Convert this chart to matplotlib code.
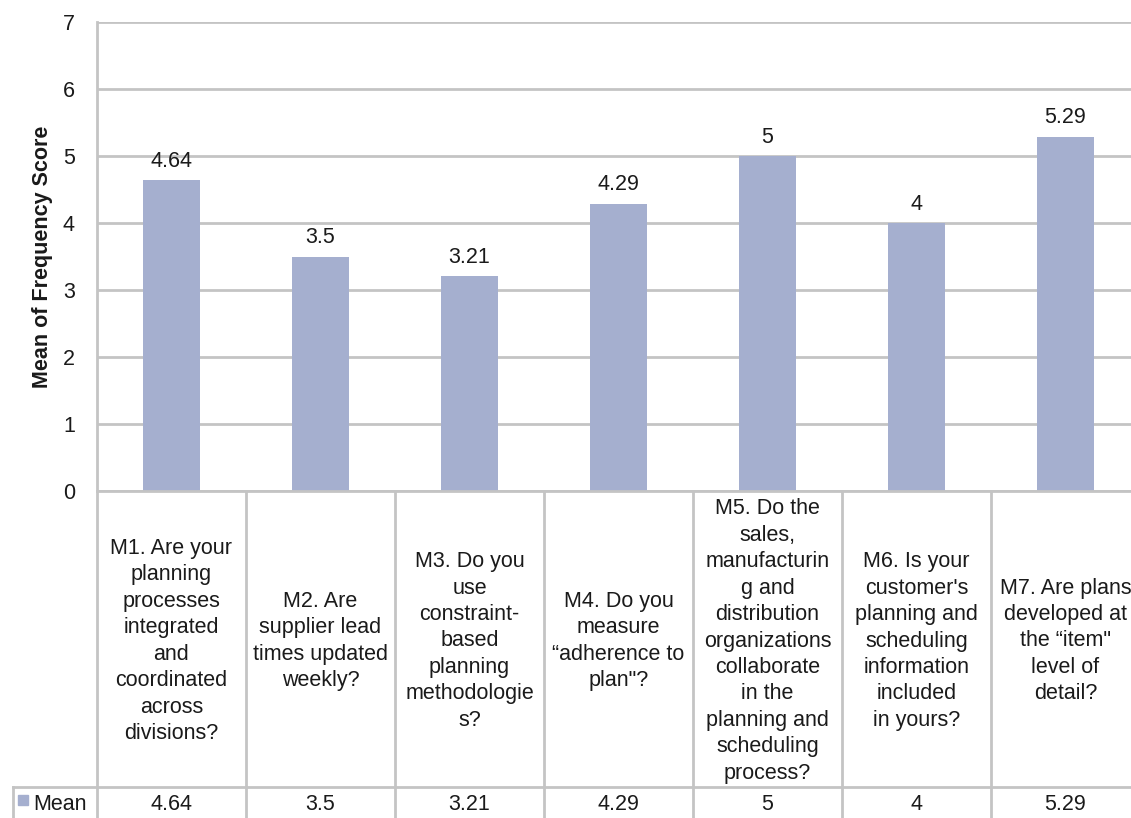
import numpy as np
import matplotlib.pyplot as plt
from matplotlib.lines import Line2D

plt.rcParams['font.family'] = ['Liberation Sans', 'DejaVu Sans']

# Survey items and their mean frequency scores
questions = [
    "M1. Are your\nplanning\nprocesses\nintegrated\nand\ncoordinated\nacross\ndivisions?",
    "M2. Are\nsupplier lead\ntimes updated\nweekly?",
    "M3. Do you\nuse\nconstraint-\nbased\nplanning\nmethodologie\ns?",
    "M4. Do you\nmeasure\n\u201cadherence to\nplan\"?",
    "M5. Do the\nsales,\nmanufacturin\ng and\ndistribution\norganizations\ncollaborate\nin the\nplanning and\nscheduling\nprocess?",
    "M6. Is your\ncustomer's\nplanning and\nscheduling\ninformation\nincluded\nin yours?",
    "M7. Are plans\ndeveloped at\nthe \u201citem\"\nlevel of\ndetail?",
]
means = [4.64, 3.5, 3.21, 4.29, 5, 4, 5.29]
value_text = ["4.64", "3.5", "3.21", "4.29", "5", "4", "5.29"]
series_name = "Mean"

W, H = 1131, 818
bar_color = '#a5afcf'
grid_color = '#c4c4c4'
txt_color = '#1a1a1a'
fs = 15.5

fig = plt.figure(figsize=(W / 100, H / 100), dpi=100)

# pixel helpers (from top-left)
def fx(px):
    return px / W

def fy(py):
    return 1 - py / H

ax_left, ax_right, ax_top, ax_bot = 97, 1140, 22, 491
ax = fig.add_axes([fx(ax_left), fy(ax_bot), fx(ax_right - ax_left),
                   (ax_bot - ax_top) / H])

x = np.arange(len(means))
ax.bar(x, means, width=0.385, color=bar_color, zorder=3)
for xi, v, t in zip(x, means, value_text):
    ax.annotate(t, (xi, v), xytext=(0, 6), textcoords='offset points',
                ha='center', va='bottom', fontsize=fs, color=txt_color)

ax.set_xlim(-0.5, len(means) - 0.5)
ax.set_ylim(0, 7)
ax.set_yticks(range(0, 8))
ax.tick_params(axis='y', length=0, pad=16, labelsize=fs, labelcolor=txt_color)
ax.tick_params(axis='x', length=0, labelbottom=False)
ax.yaxis.grid(True, color=grid_color, lw=2, zorder=0)
for s in ['top', 'right', 'bottom']:
    ax.spines[s].set_visible(False)
ax.spines['left'].set_color(grid_color)
ax.spines['left'].set_linewidth(2)
ax.set_ylabel("Mean of Frequency Score", fontsize=fs, fontweight='bold',
              labelpad=7, color=txt_color)

# data table underneath the plot
row_line = 787
trans = ax.get_xaxis_transform()
bounds = np.arange(len(means) + 1) - 0.5
for b in bounds:
    ax.add_line(Line2D([b, b], [0, -(H - ax_bot) / (ax_bot - ax_top)],
                       transform=trans, color=grid_color, lw=2, clip_on=False))
fig.add_artist(Line2D([fx(ax_left), 1], [fy(ax_bot), fy(ax_bot)],
                      color=grid_color, lw=2))
fig.add_artist(Line2D([fx(13), 1], [fy(row_line), fy(row_line)],
                      color=grid_color, lw=2))
fig.add_artist(Line2D([fx(13), fx(13)], [fy(row_line), 0],
                      color=grid_color, lw=2))

mid_y = (ax_bot + row_line) / 2 + 2
for xi, q, t in zip(x, questions, value_text):
    xf = fig.transFigure.inverted().transform(ax.transData.transform((xi, 0)))[0]
    fig.text(xf, fy(mid_y), q, ha='center', va='center', fontsize=fs,
             linespacing=1.34, color=txt_color)
    fig.text(xf, fy(805), t, ha='center', va='center', fontsize=fs,
             color=txt_color)

# legend key in the table row
fig.patches.append(plt.Rectangle((fx(18), fy(805)), fx(10), 10 / H,
                                 transform=fig.transFigure, color=bar_color))
fig.text(fx(33), fy(805), series_name, ha='left', va='center', fontsize=fs,
         color=txt_color)

fig.savefig('out.png', dpi=100)
